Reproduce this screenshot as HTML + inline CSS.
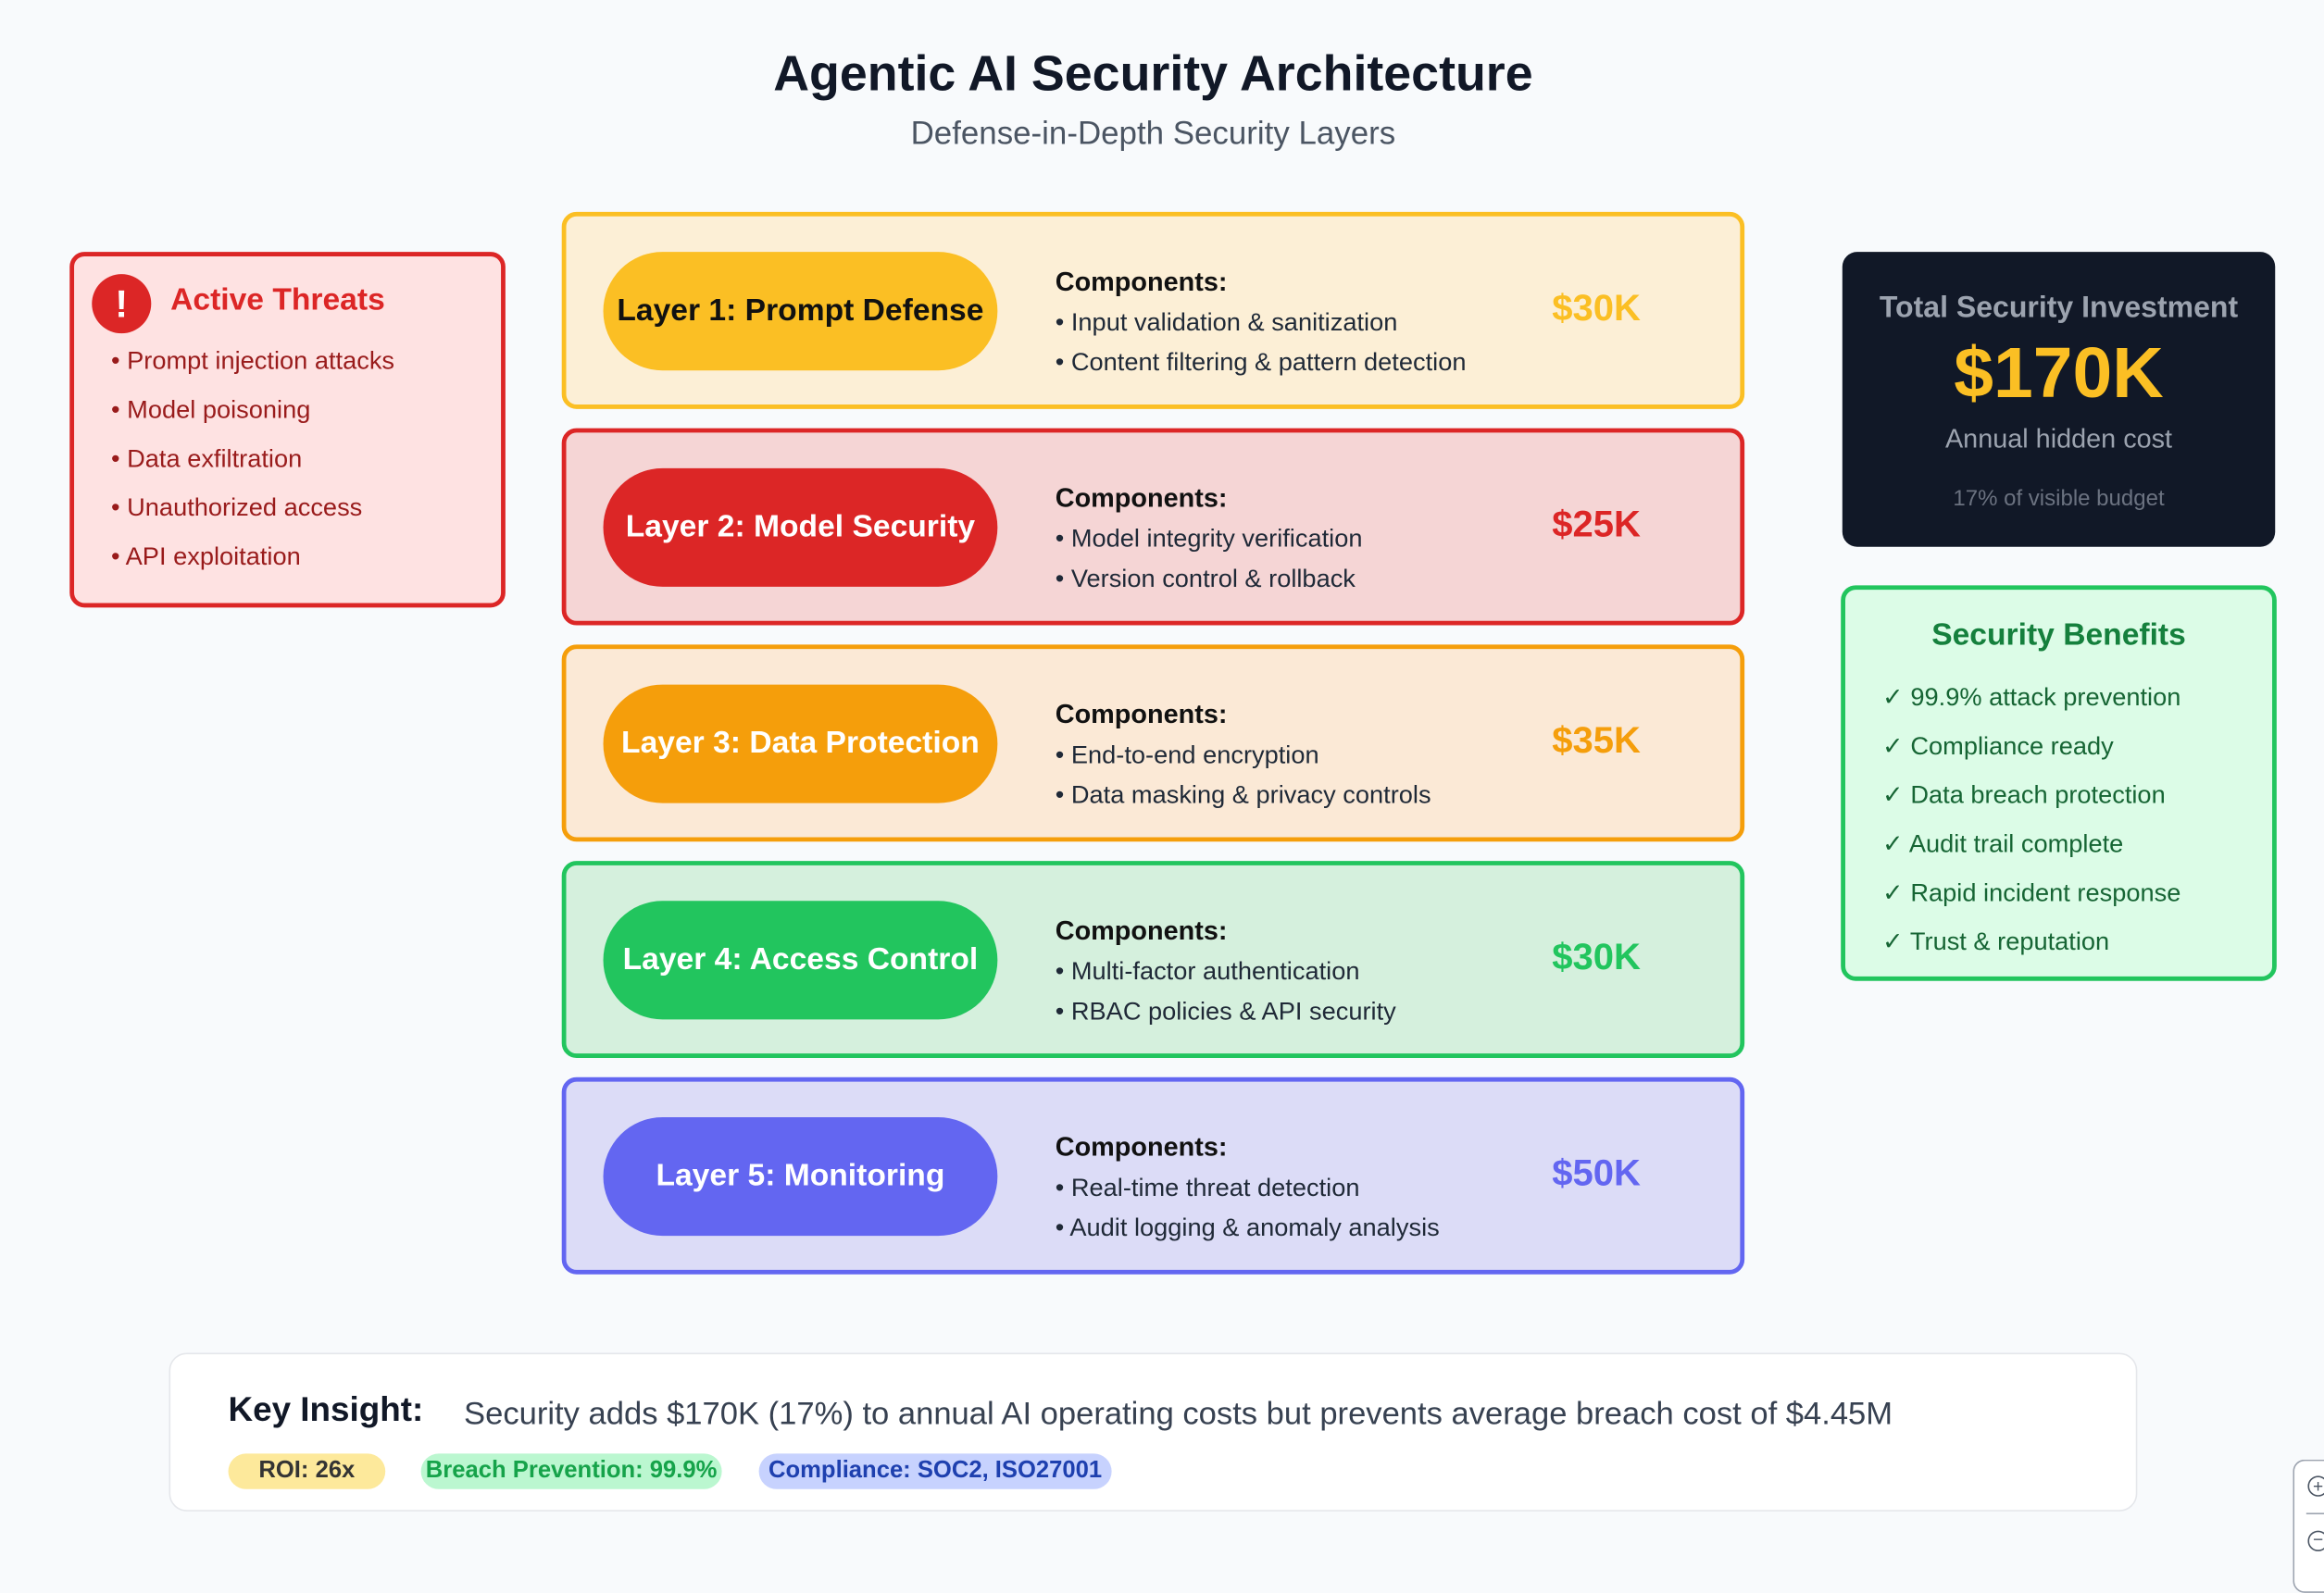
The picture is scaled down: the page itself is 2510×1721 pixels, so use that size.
<!DOCTYPE html>
<html><head><meta charset="utf-8"><style>
html,body{margin:0;padding:0;width:2510px;height:1692px;overflow:hidden;background:#f8fafc;}
#s{position:absolute;left:0;top:0;width:1568px;height:1057px;transform:scale(1.6008);transform-origin:0 0;font-family:"Liberation Sans",sans-serif;}
.a{position:absolute;}
.c{text-align:center;}
.layer{position:absolute;left:379px;width:798px;height:133px;box-sizing:border-box;border:3px solid;border-radius:10px;}
.pill{position:absolute;left:25px;top:24px;width:266px;height:80px;border-radius:40px;display:flex;align-items:center;justify-content:center;font-weight:bold;font-size:21px;color:#fff;}
.comp{position:absolute;left:330px;top:31px;font-size:17px;color:#1f2937;line-height:27px;}
.comp b{font-size:18px;color:#111;}
.price{position:absolute;left:630px;width:130px;top:48px;text-align:center;font-weight:bold;font-size:25px;}
.tl{font-size:17px;color:#991b1b;line-height:33px;}
.bl{font-size:17px;color:#166534;line-height:33px;}
.tag{position:absolute;top:981px;height:24px;border-radius:12px;font-weight:bold;font-size:16px;line-height:24px;text-align:center;}
</style></head><body><div id="s">
<div class="a c" style="left:0;width:1556px;top:32px;font-size:33.6px;font-weight:bold;color:#111827;">Agentic AI Security Architecture</div>
<div class="a c" style="left:0;width:1556px;top:77px;font-size:21.8px;color:#4b5563;">Defense-in-Depth Security Layers</div>

<div class="a" style="left:47px;top:170px;width:294px;height:240px;box-sizing:border-box;border:3px solid #dc2626;border-radius:10px;background:#fee2e2;">
 <div class="a" style="left:12px;top:12px;width:40px;height:40px;border-radius:50%;background:#dc2626;color:#fff;font-weight:bold;font-size:26px;text-align:center;line-height:40px;">!</div>
 <div class="a" style="left:65px;top:18px;font-size:21px;font-weight:bold;color:#dc2626;">Active Threats</div>
 <div class="a tl" style="left:25px;top:54px;">• Prompt injection attacks<br>• Model poisoning<br>• Data exfiltration<br>• Unauthorized access<br>• API exploitation</div>
</div>

<div class="layer" style="top:143px;border-color:#fbbf24;background:#fcefd6;"><div class="pill" style="background:#fbbf24;color:#111;">Layer 1: Prompt Defense</div><div class="comp"><b>Components:</b><br>• Input validation &amp; sanitization<br>• Content filtering &amp; pattern detection</div><div class="price" style="color:#fbbf24;">$30K</div></div>
<div class="layer" style="top:289px;border-color:#dc2626;background:#f5d5d5;"><div class="pill" style="background:#dc2626;">Layer 2: Model Security</div><div class="comp"><b>Components:</b><br>• Model integrity verification<br>• Version control &amp; rollback</div><div class="price" style="color:#dc2626;">$25K</div></div>
<div class="layer" style="top:435px;border-color:#f59e0b;background:#fbe9d6;"><div class="pill" style="background:#f59e0b;">Layer 3: Data Protection</div><div class="comp"><b>Components:</b><br>• End-to-end encryption<br>• Data masking &amp; privacy controls</div><div class="price" style="color:#f59e0b;">$35K</div></div>
<div class="layer" style="top:581px;border-color:#22c55e;background:#d5f0dd;"><div class="pill" style="background:#22c55e;">Layer 4: Access Control</div><div class="comp"><b>Components:</b><br>• Multi-factor authentication<br>• RBAC policies &amp; API security</div><div class="price" style="color:#22c55e;">$30K</div></div>
<div class="layer" style="top:727px;border-color:#6366f1;background:#dcdcf7;"><div class="pill" style="background:#6366f1;">Layer 5: Monitoring</div><div class="comp"><b>Components:</b><br>• Real-time threat detection<br>• Audit logging &amp; anomaly analysis</div><div class="price" style="color:#6366f1;">$50K</div></div>

<div class="a" style="left:1243px;top:170px;width:292px;height:199px;border-radius:10px;background:#111827;">
 <div class="a c" style="left:0;width:292px;top:27px;font-size:20px;font-weight:bold;color:#9ca3af;">Total Security Investment</div>
 <div class="a c" style="left:0;width:292px;top:55px;font-size:48px;font-weight:bold;color:#fbbf24;">$170K</div>
 <div class="a c" style="left:0;width:292px;top:116px;font-size:18px;color:#9ca3af;">Annual hidden cost</div>
 <div class="a c" style="left:0;width:292px;top:158px;font-size:15px;color:#6b7280;">17% of visible budget</div>
</div>

<div class="a" style="left:1242px;top:395px;width:294px;height:267px;box-sizing:border-box;border:3px solid #22c55e;border-radius:10px;background:#dcfce7;">
 <div class="a c" style="left:0;width:288px;top:19px;font-size:21px;font-weight:bold;color:#15803d;">Security Benefits</div>
 <div class="a bl" style="left:25px;top:56px;">✓ 99.9% attack prevention<br>✓ Compliance ready<br>✓ Data breach protection<br>✓ Audit trail complete<br>✓ Rapid incident response<br>✓ Trust &amp; reputation</div>
</div>

<div class="a" style="left:114px;top:913px;width:1328px;height:107px;box-sizing:border-box;border:1.5px solid #e5e7eb;border-radius:12px;background:#fff;">
 <div class="a" style="left:39px;top:24px;font-size:23px;font-weight:bold;color:#111827;">Key Insight:</div>
 <div class="a" style="left:198px;top:27px;font-size:21.6px;color:#374151;">Security adds $170K (17%) to annual AI operating costs but prevents average breach cost of $4.45M</div>
</div>
<div class="tag" style="left:154px;width:106px;background:#fde68a;color:#111;opacity:.85;">ROI: 26x</div>
<div class="tag" style="left:284px;width:203px;background:#bbf7d0;color:#16a34a;">Breach Prevention: 99.9%</div>
<div class="tag" style="left:512px;width:238px;background:#c7d2fe;color:#1e40af;">Compliance: SOC2, ISO27001</div>

<div class="a" style="left:1547px;top:985px;width:40px;height:90px;box-sizing:border-box;border:1px solid #9ca3af;border-radius:8px;background:#fff;">
 <div class="a" style="left:9px;top:10px;width:12px;height:12px;border:1.5px solid #4b5563;border-radius:50%;font-size:12px;line-height:12px;text-align:center;color:#4b5563;">+</div>
 <div class="a" style="left:8px;top:35px;width:30px;height:1px;background:#9ca3af;"></div>
 <div class="a" style="left:9px;top:47px;width:12px;height:12px;border:1.5px solid #4b5563;border-radius:50%;font-size:12px;line-height:11px;text-align:center;color:#4b5563;">−</div>
</div>
</div></body></html>
